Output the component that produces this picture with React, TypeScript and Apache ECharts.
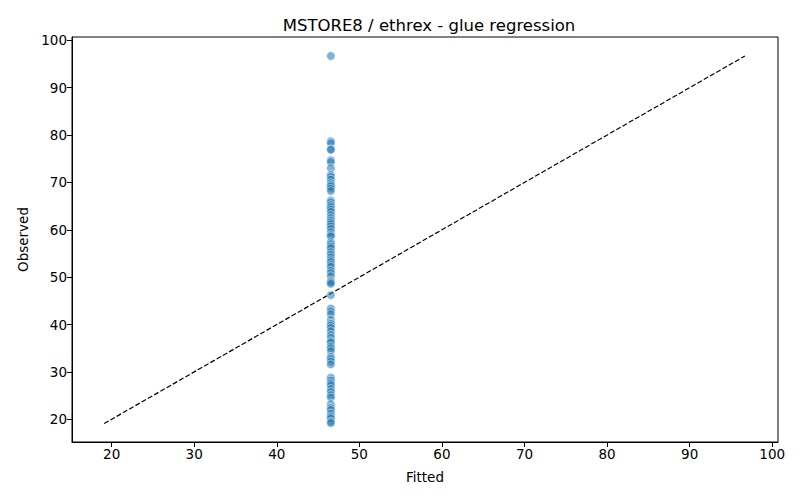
import React, { useEffect, useRef } from "react";
import * as echarts from "echarts";

const titleText = "MSTORE8 / ethrex - glue regression";
const xLabel = "Fitted";
const yLabel = "Observed";
const tickValues = [20, 30, 40, 50, 60, 70, 80, 90, 100];
const fittedValue = 46.55;
const observedValues = [
  96.7,
  78.7, 78.3, 77.0, 76.9, 74.7, 74.3, 73.0, 71.6, 71.2, 70.6, 69.9, 69.5, 69.2, 68.7, 68.2,
  66.2, 65.8, 65.2, 64.8, 64.3, 63.8, 63.1, 62.5, 62.0, 61.6, 61.2, 60.7, 60.2, 59.5, 58.9,
  58.6, 57.4, 57.0, 56.5, 56.1, 55.3, 54.8, 54.2, 53.6, 53.2, 52.6, 52.2, 51.4, 50.9, 50.2,
  49.2, 48.9, 48.6,
  46.2,
  43.4, 42.8, 42.2, 41.0, 40.2, 39.8, 39.3, 38.6, 37.8, 37.2, 36.5, 36.2, 35.4, 35.0, 34.4,
  33.2, 32.8, 32.2, 31.6,
  28.8, 28.2, 27.6, 27.2, 26.4, 25.8, 25.1, 24.6, 23.2, 22.4, 22.0, 21.2, 20.6, 20.2, 19.5, 19.2,
];
const refLine = [19.1, 96.7];
const axisMin = 15.2;
const axisMax = 100.7;

export default function App() {
  const ref = useRef<HTMLDivElement>(null);
  useEffect(() => {
    document.body.style.margin = "0";
    const chart = echarts.init(ref.current!, null, { renderer: "svg" });
    const font = "DejaVu Sans";
    const axisCommon = (name: string, isX: boolean) => ({
      type: "value" as const,
      min: axisMin,
      max: axisMax,
      name,
      nameLocation: "middle" as const,
      nameGap: isX ? 28 : 40,
      nameTextStyle: { fontFamily: font, fontSize: 13.5, color: "#000" },
      splitLine: { show: false },
      axisLine: { show: true, onZero: false, lineStyle: { color: "#000", width: 1 } },
      axisTick: {
        show: true,
        inside: false,
        length: 5,
        lineStyle: { color: "#000", width: 1 },
        customValues: tickValues,
      },
      axisLabel: {
        fontFamily: font,
        fontSize: 13.5,
        color: "#000",
        margin: 5,
        customValues: tickValues,
      },
    });
    chart.setOption({
      animation: false,
      backgroundColor: "#fff",
      title: {
        text: titleText,
        left: 424,
        textAlign: "center",
        top: 12,
        textStyle: { fontFamily: font, fontSize: 16.5, fontWeight: "normal", color: "#000" },
      },
      grid: {
        left: 72,
        top: 37,
        width: 706,
        height: 405,
        show: true,
        borderColor: "#000",
        borderWidth: 1,
        backgroundColor: "transparent",
      },
      xAxis: axisCommon(xLabel, true),
      yAxis: axisCommon(yLabel, false),
      series: [
        {
          type: "line",
          data: refLine.map((v) => [v, v]),
          symbol: "none",
          lineStyle: { color: "#000", width: 1.2, type: [5, 2.2] },
          z: 1,
        },
        {
          type: "scatter",
          data: observedValues.map((v) => [fittedValue, v]),
          symbol: "circle",
          symbolSize: 8.5,
          itemStyle: {
            color: "rgba(31,119,180,0.7)",
            borderColor: "#fff",
            borderWidth: 0.6,
          },
          z: 2,
        },
      ],
    });
    return () => chart.dispose();
  }, []);
  return <div ref={ref} style={{ width: 800, height: 500 }} />;
}
